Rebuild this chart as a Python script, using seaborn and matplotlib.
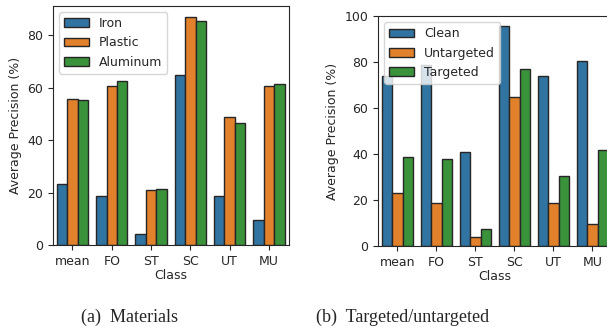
import pandas as pd
import seaborn as sns
import matplotlib.pyplot as plt

classes = ["mean", "FO", "ST", "SC", "UT", "MU"]

# (a) materials
iron = [23.1, 18.6, 4.1, 64.9, 18.8, 9.6]
plastic = [55.7, 60.8, 21.0, 86.9, 49.0, 60.5]
aluminum = [55.4, 62.5, 21.5, 85.5, 46.6, 61.3]

# (b) targeted / untargeted
clean = [74.0, 78.7, 41.0, 95.8, 74.1, 80.4]
untargeted = [23.2, 18.6, 4.1, 64.9, 18.8, 9.6]
targeted = [38.9, 37.8, 7.5, 77.0, 30.6, 41.6]


def long_table(series):
    rows = []
    for name, vals in series.items():
        for c, v in zip(classes, vals):
            rows.append({"Class": c, "AP": v, "kind": name})
    return pd.DataFrame(rows)


df_a = long_table({"Iron": iron, "Plastic": plastic, "Aluminum": aluminum})
df_b = long_table({"Clean": clean, "Untargeted": untargeted, "Targeted": targeted})

sns.set_style("ticks")
plt.rcParams["font.family"] = ["DejaVu Sans"]
plt.rcParams["font.size"] = 9

fig = plt.figure(figsize=(6.07, 3.27), dpi=100)
ax1 = fig.add_axes([0.087, 0.2508, 0.3885, 0.731])
ax2 = fig.add_axes([0.6227, 0.2477, 0.3855, 0.703])

for ax, df in [(ax1, df_a), (ax2, df_b)]:
    sns.barplot(data=df, x="Class", y="AP", hue="kind", ax=ax,
                edgecolor="0.15", linewidth=1, errorbar=None)
    ax.set_xlabel("Class", fontsize=9, labelpad=1)
    ax.set_ylabel("Average Precision (%)", fontsize=9)
    ax.tick_params(labelsize=9)
    ax.legend(loc="upper left", fontsize=9, title=None)
    for s in ax.spines.values():
        s.set_visible(True)
        s.set_color("0.15")

ax2.set_ylim(0, 100)

fig.text(0.213, 0.014, "(a)  Materials", family="Liberation Serif",
         fontsize=13, ha="center")
fig.text(0.664, 0.014, "(b)  Targeted/untargeted", family="Liberation Serif",
         fontsize=13, ha="center")

fig.savefig("out.png", dpi=100)
